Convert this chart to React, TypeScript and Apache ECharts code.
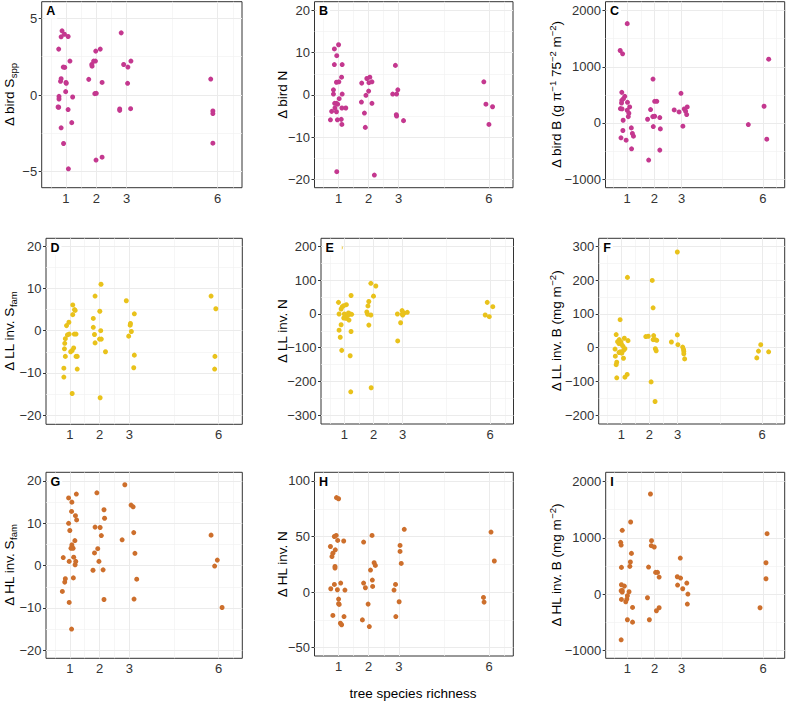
import React, { useEffect, useRef } from "react";
import * as echarts from "echarts";

const FONT = "'Liberation Sans', Arial, Helvetica, sans-serif";

// x axis (tree species richness, jittered)
const xTicks = [1, 2, 3, 6];
const xMinorGrid = [0.5, 1.5, 2.5, 4.5, 6.5];
const xRange = [0.2, 6.8];

// ---- data: [richness (jittered), delta] ----
const birdSppPts = [
  [0.87, 4.18], [0.84, 3.79], [0.95, 3.96], [1.07, 3.81], [0.76, 2.99], [1.13, 2.21], [0.91, 1.82], [0.96, 1.8],
  [0.84, 1.06], [0.82, 0.89], [1.0, 0.82], [1.01, 0.76], [0.99, 0.22], [0.77, -0.09], [0.77, -0.26], [1.22, -0.13],
  [0.74, -0.78], [0.76, -0.8], [1.07, -0.95], [1.19, -1.8], [0.84, -2.14], [0.92, -3.16], [1.08, -4.81],
  [1.75, 1.02], [1.85, 1.99], [1.86, 1.88], [1.91, 2.21], [1.97, 2.21], [1.98, 2.86], [2.13, 2.99], [2.19, 0.82],
  [1.95, 0.09], [2.0, 0.11], [1.99, -4.24], [2.19, -4.05],
  [2.82, 4.05], [2.9, 1.99], [3.14, 2.21], [3.04, 1.82], [3.03, 0.76], [2.77, -0.91], [2.77, -1.0], [3.13, -0.89],
  [5.77, 1.04], [5.84, -1.04], [5.84, -1.21], [5.84, -3.14],
];
const birdNPts = [
  [1.0, 11.9], [0.86, 10.9], [0.94, 9.3], [0.86, 7.2], [1.12, 7.2], [1.1, 4.2], [0.93, 3.0], [1.01, 3.1],
  [0.83, 1.2], [0.83, 0.2], [1.12, 0.2], [1.02, -0.9], [0.87, -2.0], [0.93, -2.0], [0.97, -2.2], [0.88, -3.1],
  [1.11, -3.1], [1.24, -3.1], [0.77, -3.9], [0.93, -4.0], [0.73, -5.9], [0.96, -5.9], [1.09, -5.8], [1.11, -7.0],
  [0.94, -18.2],
  [1.77, 2.8], [1.94, 3.9], [2.04, 4.2], [2.01, 2.9], [2.11, 3.1], [2.0, 0.9], [1.91, -0.1], [1.76, -1.7],
  [2.11, -2.0], [1.86, -4.3], [1.89, -7.7], [2.19, -19.0],
  [2.89, 7.0], [2.8, 0.2], [2.93, 0.2], [2.97, 1.2], [2.92, -4.7], [2.93, -5.0], [3.16, -6.1],
  [5.83, 3.1], [5.9, -2.2], [6.12, -2.8], [6.0, -7.0],
];
const birdBPts = [
  [1.0, 1769], [0.74, 1290], [0.83, 1231], [0.8, 544], [0.91, 473], [0.86, 432], [0.8, 402], [0.79, 355],
  [1.01, 367], [1.09, 284], [0.75, 254], [0.81, 249], [1.0, 225], [1.06, 172], [1.04, 112], [0.85, 47],
  [1.15, -89], [0.84, -136], [1.19, -189], [1.23, -237], [0.77, -266], [0.96, -308], [1.16, -462],
  [1.95, 781], [2.01, 385], [2.09, 385], [1.86, 237], [1.94, 112], [2.01, 118], [1.75, 65], [2.2, 95],
  [1.96, -65], [2.22, -107], [2.2, -485], [1.79, -663],
  [2.98, 527], [2.73, 231], [2.91, 195], [3.1, 249], [3.15, 207], [3.19, 148], [3.21, 284], [3.05, -59],
  [6.21, 1136], [6.04, 296], [5.46, -30], [6.14, -290],
];
const llSfamPts = [
  [1.1, 6.1], [1.16, 5.0], [1.18, 4.8], [1.1, 3.8], [0.97, 2.0], [0.89, 1.2], [0.98, -0.8], [0.92, -1.0],
  [1.15, -0.8], [1.21, -0.8], [0.85, -1.9], [0.83, -3.0], [0.82, -4.3], [1.13, -4.1], [1.08, -4.7], [1.03, -5.0],
  [0.85, -6.1], [1.21, -6.1], [1.25, -6.1], [0.8, -8.9], [1.25, -9.1], [0.8, -11.0], [1.08, -14.9],
  [2.05, 11.0], [1.85, 8.2], [2.01, 4.6], [1.79, 2.9], [1.79, 0.8], [2.04, 0.0], [1.83, -0.9], [2.0, -2.0],
  [2.06, -2.0], [1.85, -2.9], [2.2, -5.0], [2.02, -15.9],
  [2.9, 7.1], [3.17, 4.0], [3.04, 1.7], [3.03, 1.3], [3.07, -0.2], [2.98, -1.3], [3.17, -5.8], [3.15, -8.8],
  [5.75, 8.2], [5.91, 5.2], [5.88, -6.1], [5.87, -9.1],
];
const llNPts = [
  [0.86, 197], [0.8, 34.5], [1.07, 27.6], [0.98, 24.7], [0.93, 21.7], [0.89, 14.8], [1.23, 55], [0.82, 0],
  [1.0, 0], [1.14, 3], [1.19, 0], [1.25, -1], [1.11, -5], [0.98, -12], [1.06, -13], [1.16, -18],
  [0.89, -32], [0.82, -48], [0.86, -69], [1.23, -52], [0.91, -108], [1.2, -124], [1.22, -231],
  [1.91, 91], [2.08, 83], [2.0, 53], [1.84, 37], [1.81, 24], [1.77, 6], [1.8, -1], [1.91, -3], [1.84, -33],
  [1.92, -219],
  [2.82, 0], [2.98, 10], [2.99, 0], [3.05, 3], [3.16, 5], [3.0, -3], [2.93, -26], [2.83, -80],
  [5.9, 34.5], [6.09, 21.7], [5.83, -3], [5.97, -8],
];
const llBPts = [
  [1.22, 208], [0.96, 83], [0.82, 39], [1.11, 28], [0.93, 24], [1.24, 21], [0.87, 18], [0.99, 17],
  [0.92, 12], [1.01, 10], [1.06, 5], [0.78, -4], [1.13, -3], [1.08, -8], [0.96, -12], [0.92, -14],
  [1.02, -16], [0.79, -25], [1.08, -31], [0.84, -43], [0.82, -50], [1.21, -79], [1.13, -87], [0.84, -89],
  [2.1, 199], [2.13, 118], [1.87, 33], [1.96, 34], [2.15, 36], [2.2, 24], [2.13, 24], [2.26, 22],
  [2.21, -3], [2.24, -9], [2.06, -101], [2.2, -159],
  [2.99, 283], [2.99, 38], [2.78, 17], [3.01, 9], [3.18, 2], [3.21, -5], [3.22, -11], [3.22, -18], [3.25, -33],
  [5.95, 9], [5.87, -10], [6.23, -12], [5.81, -30],
];
const hlSfamPts = [
  [1.22, 16.9], [0.96, 16.0], [1.07, 15.0], [1.06, 12.8], [1.19, 11.8], [1.23, 10.8], [0.96, 10.0], [1.0, 8.3],
  [1.17, 5.9], [1.07, 4.9], [1.04, 4.1], [1.11, 4.1], [1.13, 2.0], [0.78, 1.9], [0.98, 1.0], [1.2, 1.0],
  [1.18, 0.2], [1.12, -2.9], [0.85, -3.1], [0.83, -3.9], [0.75, -6.1], [0.98, -8.7], [1.06, -15.0],
  [1.91, 17.2], [2.15, 13.2], [2.17, 11.2], [1.85, 9.1], [2.02, 9.0], [2.06, 7.1], [1.94, 4.0], [1.83, 3.0],
  [1.98, 1.0], [1.78, -1.1], [2.12, -1.0], [2.15, -8.0],
  [2.85, 19.1], [3.06, 14.3], [3.13, 13.9], [2.76, 6.1], [3.15, 7.8], [3.19, 2.9], [3.25, -3.2], [3.16, -7.9],
  [5.75, 7.2], [5.96, 1.3], [5.87, -0.1], [6.12, -9.9],
];
const hlNPts = [
  [0.93, 85], [1.0, 84], [0.92, 51], [0.86, 50], [0.97, 46.5], [1.17, 46], [0.89, 38], [0.73, 41],
  [0.81, 35], [0.78, 32], [0.88, 23], [0.88, 21.6], [0.86, 6.9], [1.07, 8.1], [0.74, 3.0], [0.96, 2.1],
  [1.21, 1.8], [1.0, -6.3], [1.0, -10.5], [1.02, -11.1], [0.81, -21], [1.18, -22], [1.06, -28], [1.1, -29.4],
  [2.11, 51], [1.83, 45], [2.18, 26.4], [2.22, 24], [2.06, 19.8], [2.12, 10.8], [1.83, 8.1], [1.89, 3.9],
  [2.13, 5.1], [1.98, -10.8], [1.79, -25], [2.02, -31],
  [3.18, 56.5], [3.04, 42], [3.04, 36.6], [3.08, 25.8], [2.89, 6.9], [2.84, 1.8], [3.01, -8.7], [2.9, -22],
  [6.06, 54], [6.17, 28], [5.81, -4.8], [5.83, -9],
];
const hlBPts = [
  [0.75, 920], [0.77, 872], [0.81, 1134], [1.12, 1282], [1.15, 724], [1.11, 570], [1.09, 493], [0.78, 475],
  [0.78, 166], [0.89, 142], [0.81, 65], [0.77, 59], [0.81, 36], [1.06, 42], [1.0, -30], [0.98, -89],
  [0.94, -136], [0.78, -95], [1.19, -237], [1.0, -457], [1.19, -499], [0.77, -813],
  [1.85, 1780], [1.89, 950], [1.88, 861], [1.99, 837], [1.78, 481], [2.04, 386], [2.11, 386], [2.17, 303],
  [1.74, -65], [2.17, -243], [2.07, -297], [1.81, -457],
  [2.95, 641], [2.84, 309], [2.96, 285], [2.85, 160], [3.19, 196], [3.04, 95], [3.23, 0], [3.21, -178],
  [6.15, 1074], [6.11, 558], [6.11, 273], [5.89, -243],
];

// ---- y tick labels and minor grid values ----
const yTicksA = [-5, 0, 5];
const yMinorA = [-2.5, 2.5];
const yTicksB = [-20, -10, 0, 10, 20];
const yMinorB = [-15, -5, 5, 15];
const yTicksC = [-1000, 0, 1000, 2000];
const yMinorC = [-500, 500, 1500];
const yTicksD = [-20, -10, 0, 10, 20];
const yMinorD = [-15, -5, 5, 15];
const yTicksE = [-300, -200, -100, 0, 100, 200];
const yMinorE = [-250, -150, -50, 50, 150];
const yTicksF = [-200, -100, 0, 100, 200, 300];
const yMinorF = [-150, -50, 50, 150, 250];
const yTicksG = [-20, -10, 0, 10, 20];
const yMinorG = [-15, -5, 5, 15];
const yTicksH = [-50, 0, 50, 100];
const yMinorH = [-25, 25, 75];
const yTicksI = [-1000, 0, 1000, 2000];
const yMinorI = [-500, 500, 1500];

const panelLetters = ["A", "B", "C", "D", "E", "F", "G", "H", "I"];
const yTitles = [
  "{m|Δ bird S}{sub|spp}",
  "{m|Δ bird N}",
  "{m|Δ bird B (g π}{sup|−1}{m| 75}{sup|−2}{m| m}{sup|−2}{m|)}",
  "{m|Δ LL inv. S}{sub|fam}",
  "{m|Δ LL inv. N}",
  "{m|Δ LL inv. B (mg m}{sup|−2}{m|)}",
  "{m|Δ HL inv. S}{sub|fam}",
  "{m|Δ HL inv. N}",
  "{m|Δ HL inv. B (mg m}{sup|−2}{m|)}",
];
const xTitle = "tree species richness";

const MAGENTA = "#C4388F";
const YELLOW = "#E9C21B";
const ORANGE = "#CD6F2C";

const panelData = [
  { pts: birdSppPts, ticks: yTicksA, minor: yMinorA, range: [-6.04, 6.08], color: MAGENTA },
  { pts: birdNPts, ticks: yTicksB, minor: yMinorB, range: [-22, 22.1], color: MAGENTA },
  { pts: birdBPts, ticks: yTicksC, minor: yMinorC, range: [-1155, 2160], color: MAGENTA },
  { pts: llSfamPts, ticks: yTicksD, minor: yMinorD, range: [-22.2, 21.9], color: YELLOW },
  { pts: llNPts, ticks: yTicksE, minor: yMinorE, range: [-326.6, 224.7], color: YELLOW },
  { pts: llBPts, ticks: yTicksF, minor: yMinorF, range: [-225.5, 323.6], color: YELLOW },
  { pts: hlSfamPts, ticks: yTicksG, minor: yMinorG, range: [-21.9, 22.05], color: ORANGE },
  { pts: hlNPts, ticks: yTicksH, minor: yMinorH, range: [-57.5, 107.8], color: ORANGE },
  { pts: hlBPts, ticks: yTicksI, minor: yMinorI, range: [-1142, 2166], color: ORANGE },
];

// layout (px) of each plotting panel
const layout = [
  { left: 41.7, top: 1.7, width: 200.3, height: 186, titleX: 9.5 },
  { left: 314.5, top: 1.7, width: 198.5, height: 186, titleX: 282.5 },
  { left: 605.5, top: 1.7, width: 179.2, height: 186, titleX: 556 },
  { left: 46, top: 238.3, width: 196.3, height: 186, titleX: 9.5 },
  { left: 321, top: 238.3, width: 192.5, height: 185.7, titleX: 282.5 },
  { left: 598.7, top: 238.3, width: 186, height: 185.7, titleX: 556 },
  { left: 46, top: 472.3, width: 196.3, height: 186, titleX: 9.5 },
  { left: 314.5, top: 472.3, width: 198.8, height: 183.7, titleX: 282.5 },
  { left: 605.7, top: 472.3, width: 179, height: 186, titleX: 556 },
];

const fmt = (v: number) => (v < 0 ? "\u2212" + Math.abs(v) : String(v));

export default function App() {
  const ref = useRef<HTMLDivElement>(null);
  useEffect(() => {
    if (!ref.current) return;
    const chart = echarts.init(ref.current, undefined, { renderer: "svg" });
    const major = { color: "#EBEBEB", width: 1, type: "solid" as const };
    const minorS = { color: "#F2F2F2", width: 0.7, type: "solid" as const };

    const grids: any[] = [];
    const xAxes: any[] = [];
    const yAxes: any[] = [];
    const series: any[] = [];
    const graphics: any[] = [];

    panelData.forEach((p, i) => {
      const L = layout[i];
      grids.push({
        left: L.left, top: L.top, width: L.width, height: L.height,
        show: true, borderColor: "#333333", borderWidth: 1, backgroundColor: "#fff", z: 0,
      });
      xAxes.push({
        gridIndex: i, type: "value", min: xRange[0], max: xRange[1],
        axisLine: { show: false },
        axisTick: { show: true, length: 3, lineStyle: { color: "#333333" }, customValues: xTicks },
        axisLabel: { show: true, color: "#333333", fontSize: 13, fontFamily: FONT, margin: 4, customValues: xTicks, formatter: fmt },
        splitLine: { show: false },
      });
      yAxes.push({
        gridIndex: i, type: "value", min: p.range[0], max: p.range[1],
        axisLine: { show: false },
        axisTick: { show: true, length: 3, lineStyle: { color: "#333333" }, customValues: p.ticks },
        axisLabel: { show: true, color: "#333333", fontSize: 13, fontFamily: FONT, margin: 4.5, customValues: p.ticks, formatter: fmt },
        splitLine: { show: false },
      });
      const lines: any[] = [];
      xMinorGrid.forEach((v) => lines.push({ xAxis: v, lineStyle: minorS }));
      p.minor.forEach((v) => lines.push({ yAxis: v, lineStyle: minorS }));
      xTicks.forEach((v) => lines.push({ xAxis: v, lineStyle: major }));
      p.ticks.forEach((v) => lines.push({ yAxis: v, lineStyle: major }));
      series.push({
        type: "scatter", xAxisIndex: i, yAxisIndex: i, data: [], z: 1, silent: true,
        markLine: { silent: true, z: 1, symbol: ["none", "none"], label: { show: false }, emphasis: { disabled: true }, data: lines, animation: false },
      });
      series.push({
        type: "scatter", xAxisIndex: i, yAxisIndex: i, data: p.pts, z: 6,
        symbol: "circle", symbolSize: 5, itemStyle: { color: p.color, opacity: 1 }, silent: true,
      });
      // y title
      graphics.push({
        type: "text", x: L.titleX, y: L.top + L.height / 2, rotation: Math.PI / 2, z: 10,
        style: {
          text: yTitles[i], align: "center", verticalAlign: "middle", fill: "#000",
          rich: {
            m: { fontSize: 13.5, lineHeight: 18, fontFamily: FONT, fill: "#000" },
            sub: { fontSize: 9.5, lineHeight: 10, verticalAlign: "bottom", fontFamily: FONT, fill: "#000" },
            sup: { fontSize: 9.5, lineHeight: 10, verticalAlign: "top", fontFamily: FONT, fill: "#000" },
          },
        },
      });
      // panel letter
      graphics.push({
        type: "text", x: L.left + 2.5, y: L.top + 2, z: 20,
        style: {
          text: panelLetters[i], fontSize: 12.5, fontWeight: "bold", fontFamily: FONT, fill: "#000",
          align: "left", verticalAlign: "top", backgroundColor: "#fff",
          padding: i === 4 ? [1, 8, 1, 2] : [1, 2, 1, 2],
        },
      });
    });

    graphics.push({
      type: "text", x: 413, y: 693, z: 10,
      style: { text: xTitle, fontSize: 13.5, fontFamily: FONT, fill: "#000", align: "center", verticalAlign: "middle" },
    });

    chart.setOption({
      animation: false,
      grid: grids,
      xAxis: xAxes,
      yAxis: yAxes,
      series,
      graphic: graphics,
    });
    return () => chart.dispose();
  }, []);
  return <div ref={ref} style={{ position: "absolute", left: 0, top: 0, width: 787, height: 703, background: "#fff" }} />;
}
